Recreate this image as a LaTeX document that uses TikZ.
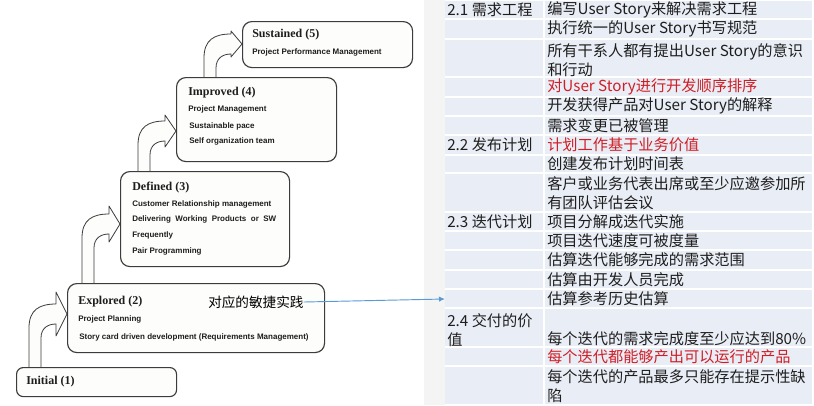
\documentclass[tikz,border=0pt]{standalone}
\usepackage{fontspec}
\setmainfont{Liberation Serif}
\newfontfamily\cjk{Noto Sans CJK SC}
\newfontfamily\itemfont{Liberation Sans}
\usetikzlibrary{arrows.meta}

\definecolor{cellbg}{RGB}{233,237,245}
\definecolor{txt}{RGB}{30,30,30}
\definecolor{redtxt}{RGB}{208,30,38}
\definecolor{boxline}{RGB}{60,60,60}
\definecolor{boxfill}{RGB}{253,253,251}
\definecolor{linkblue}{RGB}{91,155,213}
\definecolor{shadowgray}{RGB}{244,244,244}

\tikzset{
  barrow/.style={draw=boxline, fill=boxfill, line width=0.6pt, line join=round},
  stagebox/.style={draw=boxline, fill=boxfill, line width=0.85pt, rounded corners=7pt, inner sep=0pt, anchor=north west},
  ttl/.style={font=\bfseries\fontsize{9}{10}\selectfont, text=txt, inner sep=0pt, anchor=west},
  itm/.style={font=\itemfont\bfseries\fontsize{6}{7}\selectfont, text=txt, inner sep=0pt, anchor=west},
  tcell/.style={font=\cjk\fontsize{11.4}{14.25}\selectfont, text=txt, inner sep=0pt, anchor=west, align=left},
  rcell/.style={tcell, text=redtxt},
  link/.style={draw=linkblue, line width=0.7pt, -{Latex[length=4.5pt,width=4pt]}}
}

\newcommand\bentarr[5]{%
  \filldraw[barrow] (#1,#2) -- (#1,#4+14) .. controls (#1,#4-4) and (#1+10,#4-10) .. (#3-11,#4-10)
    -- (#3-11,#4-#5) -- (#3,#4) -- (#3-11,#4+#5) -- (#3-11,#4+10)
    .. controls (#1+19,#4+10) and (#1+12,#4+14) .. (#1+12,#4+24) -- (#1+12,#2) -- cycle;}

\begin{document}
\begin{tikzpicture}[x=0.75pt, y=-0.75pt]
\useasboundingbox (0,0) rectangle (814,405);
\fill[white] (0,0) rectangle (814,405);

% slide shadow strip
\fill[shadowgray] (424,0) rectangle (445,405);

% ---------- table ----------
\fill[cellbg] (445,1) rectangle (812,404);
\foreach \yy in {19,39,77,97,116,135,155,173,212,231,250,270,289,308,347,366}
  \draw[white, line width=1.5pt] (445,\yy) -- (812,\yy);
\draw[white, line width=1.5pt] (544,1) -- (544,404);

\node[tcell] (l1) at (447,10) {2.1 需求工程};
\node[tcell] (l2) at (447,145) {2.2 发布计划};
\node[tcell] (l3) at (447,222) {2.3 迭代计划};
\node[tcell] (l4) at (447,330) {2.4 交付的价\\值};

\node[tcell] (r1) at (547,10) {编写User Story来解决需求工程};
\node[tcell] (r2) at (547,29) {执行统一的User Story书写规范};
\node[tcell] (r3) at (547,60) {所有干系人都有提出User Story的意识\\和行动};
\node[rcell] (r4) at (547,87) {对User Story进行开发顺序排序};
\node[tcell] (r5) at (547,106) {开发获得产品对User Story的解释};
\node[tcell] (r6) at (547,126) {需求变更已被管理};
\node[rcell] (r7) at (547,145) {计划工作基于业务价值};
\node[tcell] (r8) at (547,164) {创建发布计划时间表};
\node[tcell] (r9) at (547,193) {客户或业务代表出席或至少应邀参加所\\有团队评估会议};
\node[tcell] (r10) at (547,222) {项目分解成迭代实施};
\node[tcell] (r11) at (547,241) {项目迭代速度可被度量};
\node[tcell] (r12) at (547,260) {估算迭代能够完成的需求范围};
\node[tcell] (r13) at (547,280) {估算由开发人员完成};
\node[tcell] (r14) at (547,299) {估算参考历史估算};
\node[tcell] (r15) at (547,339) {每个迭代的需求完成度至少应达到80\%};
\node[rcell] (r16) at (547,357) {每个迭代都能够产出可以运行的产品};
\node[tcell] (r17) at (547,386) {每个迭代的产品最多只能存在提示性缺\\陷};

\coordinate (tgt) at (445,299);

% ---------- bent block arrows ----------
\bentarr{29}{369}{67}{314}{22}
\bentarr{82}{285}{120}{224}{18}
\bentarr{138}{173}{176}{131}{16}
\bentarr{204}{79}{242}{44}{13}

% ---------- stage boxes ----------
\node[stagebox, minimum width=127.5pt, minimum height=34.5pt] (s5) at (242,21) {};
\node[stagebox, minimum width=120pt, minimum height=63pt] (s4) at (176,77) {};
\node[stagebox, minimum width=126.75pt, minimum height=71.25pt] (s3) at (120,171) {};
\node[stagebox, minimum width=192.75pt, minimum height=51.75pt] (s2) at (67,283) {};
\node[stagebox, rounded corners=5pt, minimum width=120pt, minimum height=21.75pt] (s1) at (16,367) {};

\node[ttl] (s5t) at (252,35) {Sustained (5)};
\node[itm] (s5a) at (252,52) {Project Performance Management};

\node[ttl] (s4t) at (188,93) {Improved (4)};
\node[itm] (s4a) at (188,109) {Project Management};
\node[itm] (s4b) at (189,126) {Sustainable pace};
\node[itm] (s4c) at (189,141) {Self organization team};

\node[ttl] (s3t) at (132,188) {Defined (3)};
\node[itm] (s3a) at (132,204) {Customer Relationship management};
\node[itm] (s3b) at (132,219) {\makebox[108pt][s]{Delivering Working Products or SW}};
\node[itm] (s3c) at (132,235) {Frequently};
\node[itm] (s3d) at (132,251) {Pair Programming};

\node[ttl] (s2t) at (78,302) {Explored (2)};
\node[itm] (s2a) at (78,319) {Project Planning};
\node[itm] (s2b) at (79,337) {Story card driven development (Requirements Management)};
\node[font=\cjk\fontsize{10.2}{12}\selectfont, text=black, inner sep=0pt, anchor=west] (agile) at (208,302) {对应的敏捷实践};

\node[ttl] (s1t) at (26,382) {Initial (1)};

% ---------- connector ----------
\draw[link] (agile.east) -- (tgt);
\end{tikzpicture}
\end{document}
